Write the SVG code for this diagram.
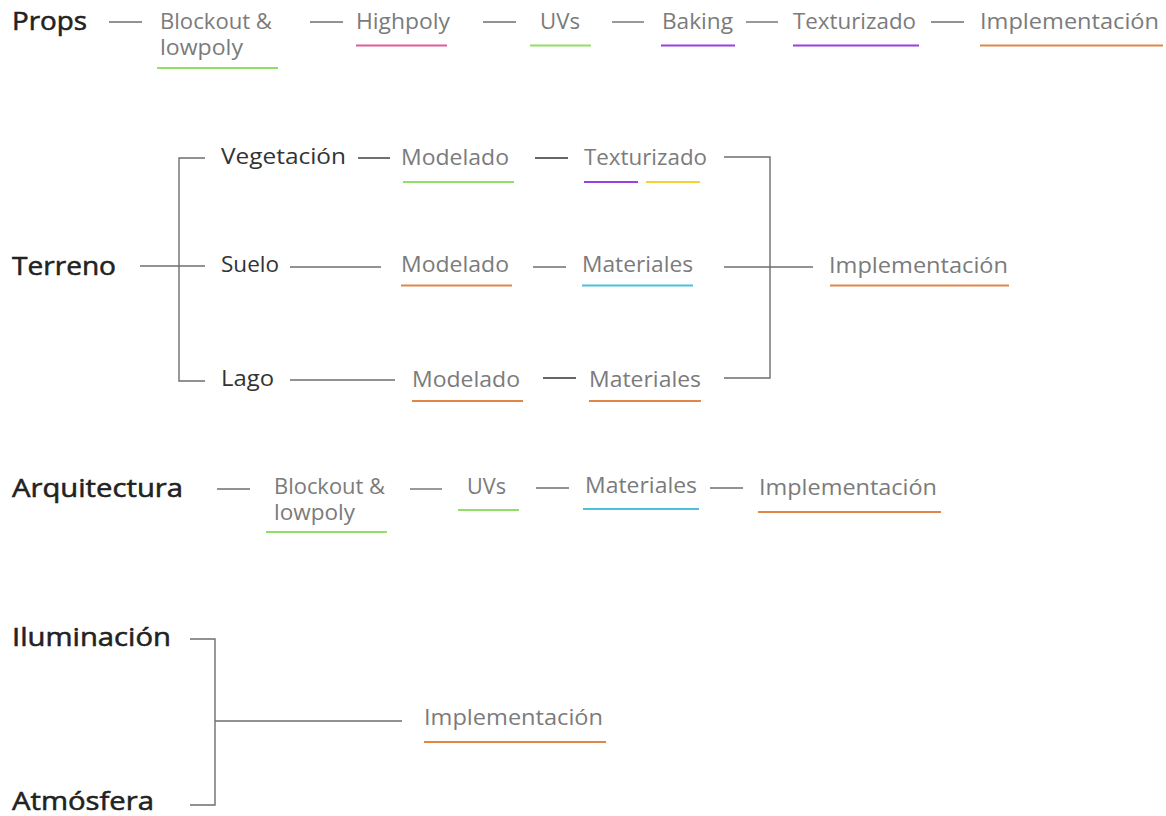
<svg xmlns="http://www.w3.org/2000/svg" width="1166" height="816" viewBox="0 0 1166 816">
<style>
text{font-family:"Open Sans","Noto Sans","Liberation Sans",sans-serif;}
.h{font-size:26px;font-weight:400;fill:#222222;stroke:#222222;stroke-width:0.55;}
.s{font-size:22px;fill:#333333;}
.l{font-size:22px;fill:#7b7b7b;}
.c{stroke:#6e6e6e;stroke-width:1.4;fill:none;}
.d{stroke:#333333;stroke-width:1.4;fill:none;}
.u{stroke-width:2;fill:none;}
.green{stroke:#92de67;}
.pink{stroke:#de5f98;}
.purple{stroke:#9b3ee2;}
.orange{stroke:#e08748;}
.cyan{stroke:#4cbfdb;}
.yellow{stroke:#f4d232;}
</style>
<rect width="1166" height="816" fill="#ffffff"/>
<g id="connectors">
<line class="c" x1="109" y1="22" x2="142" y2="22"/>
<line class="c" x1="310" y1="22" x2="343" y2="22"/>
<line class="c" x1="483" y1="22" x2="516" y2="22"/>
<line class="c" x1="612" y1="22" x2="644" y2="22"/>
<line class="c" x1="746" y1="22" x2="778" y2="22"/>
<line class="c" x1="931" y1="22" x2="964" y2="22"/>
<line class="c" x1="140" y1="266" x2="205" y2="266"/>
<polyline class="c" points="205,158 179,158 179,381 205,381"/>
<line class="d" x1="358" y1="158" x2="390" y2="158"/>
<line class="d" x1="535" y1="158" x2="568" y2="158"/>
<line class="c" x1="290" y1="267" x2="381" y2="267"/>
<line class="c" x1="533" y1="267" x2="566" y2="267"/>
<line class="c" x1="290" y1="380" x2="395" y2="380"/>
<line class="d" x1="543" y1="378" x2="576" y2="378"/>
<polyline class="c" points="724,157 770,157 770,378 724,378"/>
<line class="c" x1="724" y1="267" x2="813" y2="267"/>
<line class="c" x1="217" y1="489" x2="250" y2="489"/>
<line class="c" x1="410" y1="489" x2="442" y2="489"/>
<line class="c" x1="536" y1="488" x2="569" y2="488"/>
<line class="c" x1="710" y1="488" x2="743" y2="488"/>
<polyline class="c" points="190,639 215,639 215,805 190,805"/>
<line class="c" x1="215" y1="721" x2="402" y2="721"/>
</g>
<g id="props">
<text class="h" x="12" y="30" textLength="75" lengthAdjust="spacingAndGlyphs">Props</text>
</g>
<g id="props-blockout">
<text class="l"><tspan x="160" y="29" textLength="112" lengthAdjust="spacingAndGlyphs">Blockout &amp;</tspan><tspan x="160" y="55" textLength="83" lengthAdjust="spacingAndGlyphs">lowpoly</tspan></text>
<line class="u green" x1="157" y1="68" x2="278" y2="68"/>
</g>
<g id="props-highpoly">
<text class="l" x="356" y="29" textLength="94" lengthAdjust="spacingAndGlyphs">Highpoly</text>
<line class="u pink" x1="356" y1="45.5" x2="447" y2="45.5"/>
</g>
<g id="props-uvs">
<text class="l" x="540" y="29" textLength="40" lengthAdjust="spacingAndGlyphs">UVs</text>
<line class="u green" x1="530" y1="45.5" x2="591" y2="45.5"/>
</g>
<g id="props-baking">
<text class="l" x="662" y="29" textLength="71" lengthAdjust="spacingAndGlyphs">Baking</text>
<line class="u purple" x1="661" y1="45.5" x2="735" y2="45.5"/>
</g>
<g id="props-texturizado">
<text class="l" x="793" y="29" textLength="123" lengthAdjust="spacingAndGlyphs">Texturizado</text>
<line class="u purple" x1="793" y1="45.5" x2="919" y2="45.5"/>
</g>
<g id="props-implementacion">
<text class="l" x="980" y="29" textLength="179" lengthAdjust="spacingAndGlyphs">Implementación</text>
<line class="u orange" x1="980" y1="45.5" x2="1163" y2="45.5"/>
</g>
<g id="terreno">
<text class="h" x="12" y="275" textLength="104" lengthAdjust="spacingAndGlyphs">Terreno</text>
</g>
<g id="vegetacion">
<text class="s" x="221" y="164" textLength="125" lengthAdjust="spacingAndGlyphs">Vegetación</text>
</g>
<g id="veg-modelado">
<text class="l" x="401" y="165" textLength="108" lengthAdjust="spacingAndGlyphs">Modelado</text>
<line class="u green" x1="403" y1="182" x2="514" y2="182"/>
</g>
<g id="veg-texturizado">
<text class="l" x="584" y="165" textLength="123" lengthAdjust="spacingAndGlyphs">Texturizado</text>
<line class="u purple" x1="584" y1="182" x2="638" y2="182"/>
<line class="u yellow" x1="646" y1="182" x2="700" y2="182"/>
</g>
<g id="suelo">
<text class="s" x="221" y="272" textLength="58" lengthAdjust="spacingAndGlyphs">Suelo</text>
</g>
<g id="suelo-modelado">
<text class="l" x="401" y="272" textLength="108" lengthAdjust="spacingAndGlyphs">Modelado</text>
<line class="u orange" x1="401" y1="285.5" x2="512" y2="285.5"/>
</g>
<g id="suelo-materiales">
<text class="l" x="582" y="272" textLength="111" lengthAdjust="spacingAndGlyphs">Materiales</text>
<line class="u cyan" x1="582" y1="285.5" x2="693" y2="285.5"/>
</g>
<g id="lago">
<text class="s" x="221" y="386" textLength="53" lengthAdjust="spacingAndGlyphs">Lago</text>
</g>
<g id="lago-modelado">
<text class="l" x="412" y="387" textLength="108" lengthAdjust="spacingAndGlyphs">Modelado</text>
<line class="u orange" x1="412" y1="401" x2="523" y2="401"/>
</g>
<g id="lago-materiales">
<text class="l" x="589" y="387" textLength="112" lengthAdjust="spacingAndGlyphs">Materiales</text>
<line class="u orange" x1="589" y1="401" x2="701" y2="401"/>
</g>
<g id="terreno-implementacion">
<text class="l" x="829" y="273" textLength="179" lengthAdjust="spacingAndGlyphs">Implementación</text>
<line class="u orange" x1="830" y1="285.5" x2="1009" y2="285.5"/>
</g>
<g id="arquitectura">
<text class="h" x="12" y="497" textLength="171" lengthAdjust="spacingAndGlyphs">Arquitectura</text>
</g>
<g id="arq-blockout">
<text class="l"><tspan x="274" y="494" textLength="111" lengthAdjust="spacingAndGlyphs">Blockout &amp;</tspan><tspan x="274" y="520" textLength="81" lengthAdjust="spacingAndGlyphs">lowpoly</tspan></text>
<line class="u green" x1="266" y1="532" x2="387" y2="532"/>
</g>
<g id="arq-uvs">
<text class="l" x="467" y="494" textLength="39" lengthAdjust="spacingAndGlyphs">UVs</text>
<line class="u green" x1="458" y1="510" x2="519" y2="510"/>
</g>
<g id="arq-materiales">
<text class="l" x="585" y="493" textLength="112" lengthAdjust="spacingAndGlyphs">Materiales</text>
<line class="u cyan" x1="583" y1="509" x2="699" y2="509"/>
</g>
<g id="arq-implementacion">
<text class="l" x="759" y="495" textLength="178" lengthAdjust="spacingAndGlyphs">Implementación</text>
<line class="u orange" x1="758" y1="512" x2="941" y2="512"/>
</g>
<g id="iluminacion">
<text class="h" x="12" y="646" textLength="159" lengthAdjust="spacingAndGlyphs">Iluminación</text>
</g>
<g id="atmosfera">
<text class="h" x="12" y="810" textLength="142" lengthAdjust="spacingAndGlyphs">Atmósfera</text>
</g>
<g id="ilum-implementacion">
<text class="l" x="424" y="725" textLength="179" lengthAdjust="spacingAndGlyphs">Implementación</text>
<line class="u orange" x1="424" y1="742" x2="606" y2="742"/>
</g>
</svg>
